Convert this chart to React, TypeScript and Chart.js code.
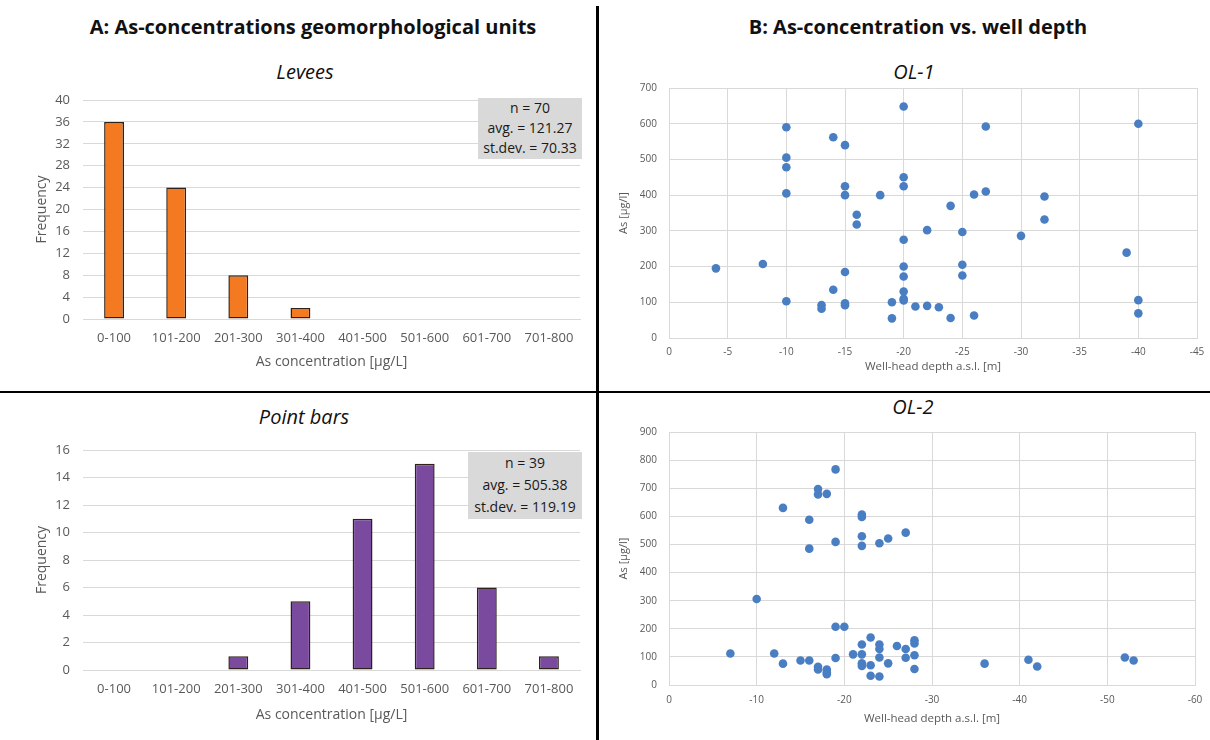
import React, { useEffect, useRef } from 'react';
import { Chart, registerables } from 'chart.js';

Chart.register(...registerables);

// ---------- DATA ----------
const binLabels = ['0-100', '101-200', '201-300', '301-400', '401-500', '501-600', '601-700', '701-800'];
const leveesFreq = [36, 24, 8, 2, 0, 0, 0, 0];
const pointBarsFreq = [0, 0, 1, 5, 11, 15, 6, 1];

const leveesStats = ['n = 70', 'avg. = 121.27', 'st.dev. = 70.33'];
const pointBarsStats = ['n = 39', 'avg. = 505.38', 'st.dev. = 119.19'];

const ol1Depth = [-4, -8, -10, -10, -10, -10, -10, -13, -13, -14, -14, -15, -15, -15, -15, -15, -15, -16, -16, -18, -19, -19, -20, -20, -20, -20, -20, -20, -20, -20, -20, -21, -22, -22, -23, -24, -24, -25, -25, -25, -26, -26, -27, -27, -30, -32, -32, -39, -40, -40, -40];
const ol1As = [195, 207, 590, 505, 478, 405, 103, 92, 82, 562, 135, 540, 425, 400, 185, 97, 92, 345, 318, 400, 100, 55, 648, 450, 425, 275, 200, 172, 130, 110, 105, 88, 302, 90, 86, 370, 56, 297, 205, 175, 402, 63, 592, 410, 286, 396, 332, 239, 600, 106, 69];

const ol2Depth = [-7, -10, -12, -13, -13, -15, -16, -16, -16, -17, -17, -17, -17, -18, -18, -18, -18, -19, -19, -19, -19, -20, -21, -22, -22, -22, -22, -22, -22, -22, -22, -23, -23, -23, -24, -24, -24, -24, -24, -25, -25, -26, -27, -27, -27, -28, -28, -28, -28, -36, -41, -42, -52, -53];
const ol2As = [112, 306, 112, 630, 76, 87, 588, 485, 87, 697, 678, 65, 55, 680, 55, 45, 38, 767, 509, 207, 96, 207, 109, 606, 598, 529, 495, 144, 109, 77, 68, 169, 70, 33, 504, 144, 128, 98, 30, 521, 77, 139, 542, 128, 97, 159, 148, 106, 57, 76, 90, 66, 98, 87];

const ol1XTicks = { min: -45, max: 0, step: 5 };
const ol1YTicks = { min: 0, max: 700, step: 100 };
const ol2XTicks = { min: -60, max: 0, step: 10 };
const ol2YTicks = { min: 0, max: 900, step: 100 };

// ---------- STYLE ----------
const FONT = '"Open Sans", "Noto Sans", sans-serif';
const GRID = '#D9D9D9';
const TICK = '#595959';
const ORANGE = '#F37A21';
const PURPLE = '#7A4A9F';
const BLUE = '#4A7EC3';

type Box = { left: number; top: number; width: number; height: number };

function useChart(cfgFactory: () => any) {
  const ref = useRef<HTMLCanvasElement | null>(null);
  useEffect(() => {
    if (!ref.current) return;
    const chart = new Chart(ref.current, cfgFactory());
    return () => chart.destroy();
  }, []);
  return ref;
}

function Histogram(props: {
  box: Box; labels: string[]; data: number[]; color: string; yMax: number; yStep: number;
  padTop: number; xAxisH: number; xTitlePad: number;
}) {
  const { box, labels, data, color, yMax, yStep, padTop, xAxisH, xTitlePad } = props;
  const ref = useChart(() => ({
    type: 'bar',
    data: {
      labels,
      datasets: [{
        data,
        backgroundColor: color,
        borderColor: '#2e2219',
        borderWidth: 1.5,
        borderSkipped: false,
        barPercentage: 0.32,
        categoryPercentage: 1,
      }],
    },
    options: {
      animation: false,
      responsive: false,
      maintainAspectRatio: false,
      layout: { padding: { top: padTop, right: 17, bottom: 0, left: 0 } },
      plugins: { legend: { display: false }, tooltip: { enabled: false }, title: { display: false } },
      scales: {
        x: {
          grid: { display: false, drawTicks: false },
          border: { display: true, color: GRID, width: 1 },
          ticks: { color: TICK, font: { family: FONT, size: 13 }, padding: 11, maxRotation: 0, autoSkip: false },
          title: { display: true, text: 'As concentration [µg/L]', color: TICK, font: { family: FONT, size: 14 }, padding: { top: 0, bottom: xTitlePad } },
          afterFit: (s: any) => { s.height = xAxisH; },
        },
        y: {
          min: 0,
          max: yMax,
          ticks: { stepSize: yStep, color: TICK, font: { family: FONT, size: 13 }, padding: 13 },
          grid: { color: GRID, drawTicks: false, lineWidth: 1 },
          border: { display: false },
          title: { display: true, text: 'Frequency', color: TICK, font: { family: FONT, size: 14 }, padding: { top: 34, bottom: 0 } },
          afterFit: (s: any) => { s.width = 83; },
        },
      },
    },
  }));
  return (
    <canvas
      ref={ref}
      width={box.width}
      height={box.height}
      style={{ position: 'absolute', left: box.left, top: box.top, width: box.width, height: box.height }}
    />
  );
}

function Scatter(props: {
  box: Box; xs: number[]; ys: number[]; xT: { min: number; max: number; step: number };
  yT: { min: number; max: number; step: number }; padTop: number; padRight: number;
  xAxisH: number; xTitlePad: number; tickPad: number;
}) {
  const { box, xs, ys, xT, yT, padTop, padRight, xAxisH, xTitlePad, tickPad } = props;
  const ref = useChart(() => ({
    type: 'scatter',
    data: {
      datasets: [{
        data: xs.map((x, i) => ({ x, y: ys[i] })),
        backgroundColor: BLUE,
        borderWidth: 0,
        pointRadius: 4.3,
      }],
    },
    options: {
      animation: false,
      responsive: false,
      maintainAspectRatio: false,
      layout: { padding: { top: padTop, right: padRight, bottom: 0, left: 0 } },
      plugins: { legend: { display: false }, tooltip: { enabled: false } },
      scales: {
        x: {
          type: 'linear',
          min: xT.min,
          max: xT.max,
          reverse: true,
          grid: { color: GRID, drawTicks: false },
          border: { display: true, color: GRID },
          ticks: {
            stepSize: xT.step, color: TICK, font: { family: FONT, size: 10 }, padding: tickPad, maxRotation: 0,
            callback: (v: number) => (v === 0 ? '0' : String(v)),
          },
          title: { display: true, text: 'Well-head depth a.s.l. [m]', color: TICK, font: { family: FONT, size: 11.5 }, padding: { top: 0, bottom: xTitlePad } },
          afterFit: (s: any) => { s.height = xAxisH; },
        },
        y: {
          min: yT.min,
          max: yT.max,
          grid: { color: GRID, drawTicks: false },
          border: { display: true, color: GRID },
          ticks: { stepSize: yT.step, color: TICK, font: { family: FONT, size: 10 }, padding: 12 },
          title: { display: true, text: 'As [µg/l]', color: TICK, font: { family: FONT, size: 11 }, padding: { top: 17, bottom: 0 } },
          afterFit: (s: any) => { s.width = 69; },
        },
      },
    },
  }));
  return (
    <canvas
      ref={ref}
      width={box.width}
      height={box.height}
      style={{ position: 'absolute', left: box.left, top: box.top, width: box.width, height: box.height }}
    />
  );
}

function Text(props: { cx: number; cy: number; text: string; size: number; weight?: number; italic?: boolean }) {
  const { cx, cy, text, size, weight, italic } = props;
  return (
    <div
      style={{
        position: 'absolute', left: cx - 300, top: cy - size * 0.7, width: 600, textAlign: 'center',
        fontFamily: FONT, fontSize: size, lineHeight: `${size * 1.4}px`, fontWeight: weight ?? 400,
        fontStyle: italic ? 'italic' : 'normal', color: '#111', whiteSpace: 'nowrap',
      }}
    >
      {text}
    </div>
  );
}

function StatBox(props: { left: number; top: number; width: number; height: number; lines: string[]; lh: number }) {
  const { left, top, width, height, lines, lh } = props;
  return (
    <div
      style={{
        position: 'absolute', left, top, width, height, background: '#D9D9D9', textAlign: 'center',
        fontFamily: FONT, fontSize: 14, lineHeight: `${lh}px`, color: '#1a1a1a',
      }}
    >
      {lines.map((l, i) => <div key={i}>{l}</div>)}
    </div>
  );
}

export default function App() {
  return (
    <div style={{ position: 'absolute', left: 0, top: 0, width: 1210, height: 740, background: '#fff', overflow: 'hidden' }}>
      <Text cx={313} cy={27} text="A: As-concentrations geomorphological units" size={20} weight={700} />
      <Text cx={918} cy={27} text="B: As-concentration vs. well depth" size={20} weight={700} />
      <Text cx={305} cy={72} text="Levees" size={20} italic />
      <Text cx={304} cy={417} text="Point bars" size={20} italic />
      <Text cx={914} cy={72} text="OL-1" size={20} italic />
      <Text cx={913} cy={407} text="OL-2" size={20} italic />

      <Histogram box={{ left: 0, top: 78, width: 597, height: 310 }} labels={binLabels} data={leveesFreq}
        color={ORANGE} yMax={40} yStep={4} padTop={22} xAxisH={69} xTitlePad={17.6} />
      <Histogram box={{ left: 0, top: 428, width: 597, height: 312 }} labels={binLabels} data={pointBarsFreq}
        color={PURPLE} yMax={16} yStep={2} padTop={22} xAxisH={70} xTitlePad={16.6} />

      <Scatter box={{ left: 600, top: 69, width: 614, height: 316 }} xs={ol1Depth} ys={ol1As} xT={ol1XTicks} yT={ol1YTicks}
        padTop={19} padRight={17} xAxisH={47} xTitlePad={11} tickPad={8} />
      <Scatter box={{ left: 600, top: 413, width: 613, height: 327 }} xs={ol2Depth} ys={ol2As} xT={ol2XTicks} yT={ol2YTicks}
        padTop={19} padRight={18} xAxisH={55} xTitlePad={14} tickPad={9} />

      <StatBox left={478} top={98} width={104} height={61} lines={leveesStats} lh={20} />
      <StatBox left={468} top={452} width={114} height={67} lines={pointBarsStats} lh={22} />

      <div style={{ position: 'absolute', left: 596, top: 6, width: 3, height: 734, background: '#000' }} />
      <div style={{ position: 'absolute', left: 0, top: 391, width: 1210, height: 2, background: '#000' }} />
    </div>
  );
}
